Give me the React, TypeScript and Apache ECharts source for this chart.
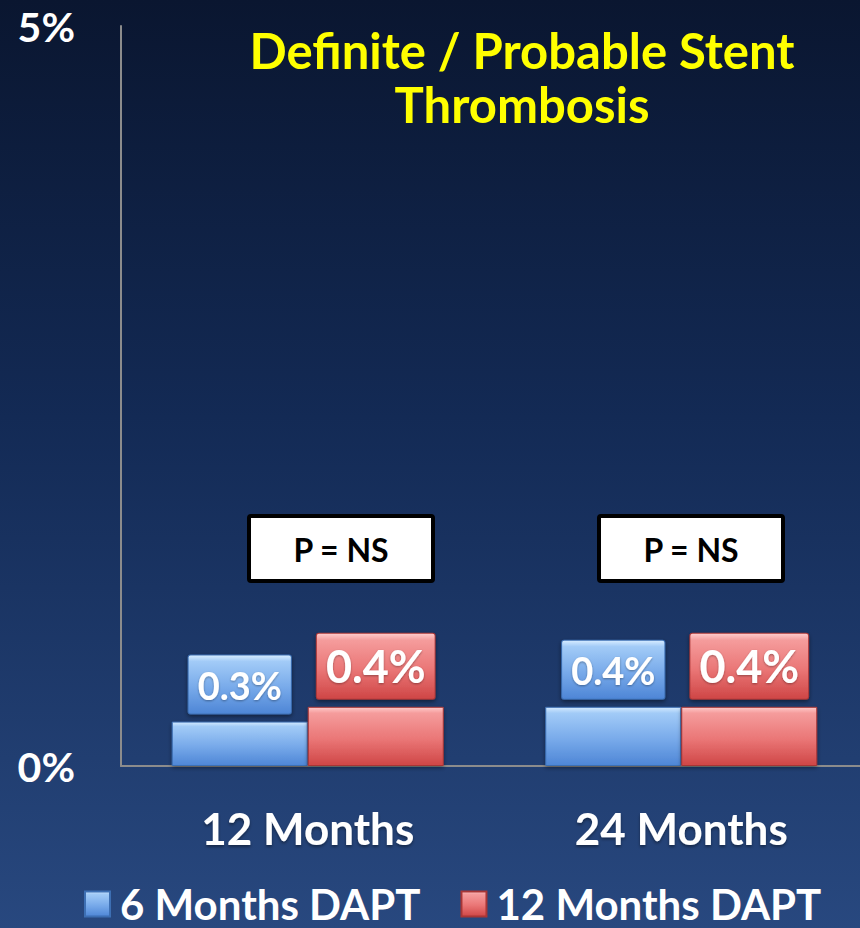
import React, { useEffect, useRef } from "react";
import * as echarts from "echarts";

const categories = ["12 Months", "24 Months"];
const sixMonthsDapt = [0.3, 0.4];
const twelveMonthsDapt = [0.4, 0.4];
const seriesNames = ["6 Months DAPT", "12 Months DAPT"];
const yMin = 0;
const yMax = 5;
const titleText = "Definite / Probable Stent\nThrombosis";
const pValueText = "P = NS";

const FONT = "Lato, 'Open Sans', sans-serif";

const vGrad = (stops: [number, string][]) =>
  new echarts.graphic.LinearGradient(
    0, 0, 0, 1,
    stops.map(([offset, color]) => ({ offset, color }))
  );

const blueFill = () =>
  vGrad([[0, "#d4eaff"], [0.1, "#a2cbf7"], [0.55, "#78aaea"], [1, "#4e86d6"]]);
const redFill = () =>
  vGrad([[0, "#ffcaca"], [0.1, "#f59c9c"], [0.55, "#ea7676"], [1, "#cf4646"]]);

export default function App() {
  const ref = useRef<HTMLDivElement>(null);

  useEffect(() => {
    document.body.style.margin = "0";
    const chart = echarts.init(ref.current!, undefined, { renderer: "svg" });

    const barLabel = (size: number, fill: () => any, border: string) => ({
      show: true,
      position: "top" as const,
      distance: 8,
      formatter: (p: any) => `${p.value}%`,
      color: "#ffffff",
      fontFamily: FONT,
      fontWeight: "bold" as const,
      fontSize: size,
      lineHeight: size + 2,
      padding: [9, 9, 9, 9],
      backgroundColor: fill(),
      borderColor: border,
      borderWidth: 1,
      borderRadius: 2,
      shadowColor: "rgba(0,0,0,0.45)",
      shadowBlur: 4,
      shadowOffsetY: 2,
      textShadowColor: "rgba(0,0,0,0.35)",
      textShadowBlur: 2,
      textShadowOffsetY: 1,
    });

    const pBox = (x: number) => ({
      type: "group",
      x,
      y: 516,
      children: [
        {
          type: "rect",
          shape: { x: 0, y: 0, width: 184, height: 65, r: 2 },
          style: { fill: "#ffffff", stroke: "#000000", lineWidth: 4 },
        },
        {
          type: "text",
          x: 92,
          y: 33,
          style: {
            text: pValueText,
            fill: "#000000",
            font: `bold 32px ${FONT}`,
            align: "center",
            verticalAlign: "middle",
          },
        },
      ],
    });

    chart.setOption({
      animation: false,
      backgroundColor: vGrad([[0, "#0a1630"], [0.45, "#132a55"], [1, "#28487f"]]),
      // the category axis runs a little past the right edge of the page
      grid: {
        left: 121,
        width: 747,
        top: 26,
        bottom: 162,
        containLabel: false,
        outerBoundsMode: "none",
      },
      legend: {
        left: 79,
        top: 878,
        itemWidth: 25,
        itemHeight: 25,
        itemGap: 40,
        icon: "rect",
        data: seriesNames,
        textStyle: {
          color: "#ffffff",
          fontFamily: FONT,
          fontWeight: "bold",
          fontSize: 42,
          lineHeight: 40,
          padding: [0, 0, 0, 5],
        },
      },
      xAxis: {
        type: "category",
        data: categories,
        axisLine: { show: true, lineStyle: { color: "#8c8c8c", width: 2 } },
        axisTick: { show: false },
        axisLabel: {
          color: "#ffffff",
          fontFamily: FONT,
          fontWeight: "bold",
          fontSize: 44,
          margin: 40,
          textShadowColor: "rgba(0,0,0,0.4)",
          textShadowBlur: 3,
          textShadowOffsetY: 2,
        },
      },
      yAxis: {
        type: "value",
        min: yMin,
        max: yMax,
        interval: yMax - yMin,
        axisLine: { show: true, lineStyle: { color: "#8c8c8c", width: 2 } },
        axisTick: { show: false },
        splitLine: { show: false },
        axisLabel: {
          color: "#ffffff",
          fontFamily: FONT,
          fontWeight: "bold",
          fontSize: 41,
          margin: 46,
          formatter: (v: number) => `${v}%`,
        },
      },
      series: [
        {
          name: seriesNames[0],
          type: "bar",
          data: sixMonthsDapt,
          barWidth: 136,
          barGap: "0%",
          itemStyle: {
            color: blueFill(),
            borderColor: "#3d6fb3",
            borderWidth: 1,
            shadowColor: "rgba(0,0,0,0.4)",
            shadowBlur: 4,
            shadowOffsetY: 2,
          },
          label: barLabel(38, blueFill, "#3d6fb3"),
        },
        {
          name: seriesNames[1],
          type: "bar",
          data: twelveMonthsDapt,
          barWidth: 136,
          barGap: "0%",
          itemStyle: {
            color: redFill(),
            borderColor: "#a83636",
            borderWidth: 1,
            shadowColor: "rgba(0,0,0,0.4)",
            shadowBlur: 4,
            shadowOffsetY: 2,
          },
          label: barLabel(45, redFill, "#a83636"),
        },
      ],
      graphic: [
        {
          type: "text",
          x: 522,
          y: 23,
          style: {
            text: titleText,
            fill: "#ffff00",
            font: `bold 49px ${FONT}`,
            lineHeight: 54,
            align: "center",
            verticalAlign: "top",
            shadowColor: "rgba(0,0,0,0.5)",
            shadowBlur: 3,
            shadowOffsetY: 2,
          },
        },
        pBox(249),
        pBox(599),
      ],
    });

    return () => chart.dispose();
  }, []);

  return <div ref={ref} style={{ width: 860, height: 928 }} />;
}
